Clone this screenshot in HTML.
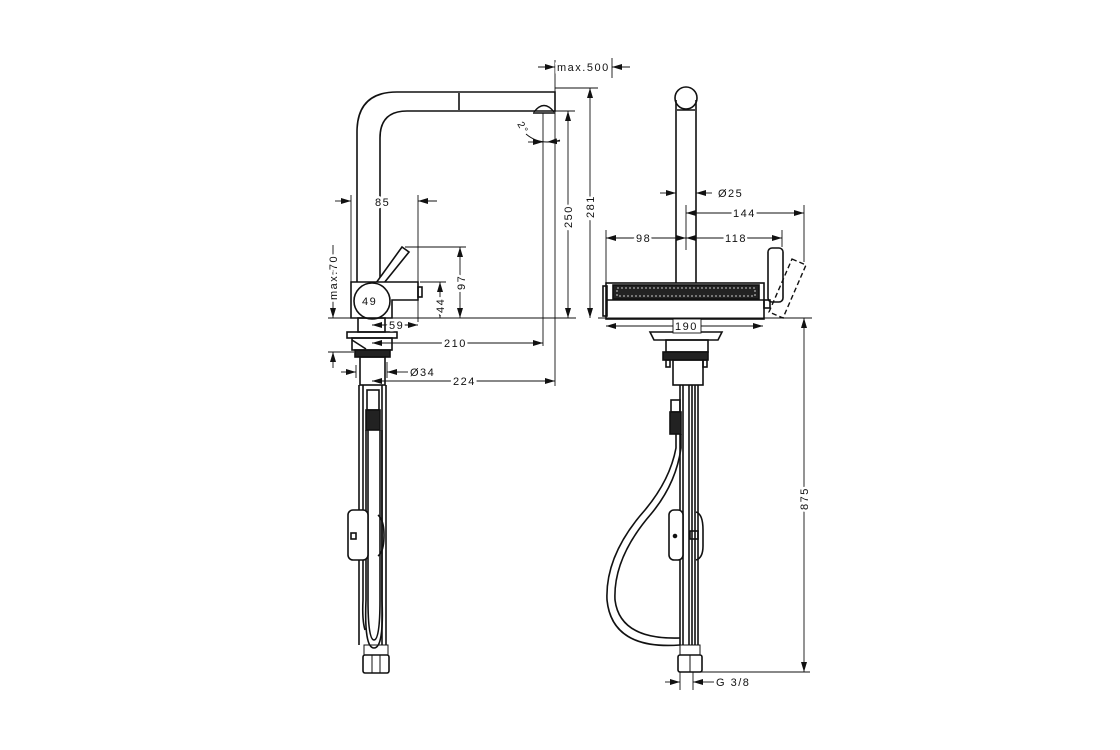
<!DOCTYPE html>
<html><head><meta charset="utf-8"><style>
html,body{margin:0;padding:0;background:#fff;}
svg{display:block;}
text{font-family:"Liberation Sans",sans-serif;font-size:11px;fill:#111;letter-spacing:1.5px;paint-order:stroke;stroke:#fff;stroke-width:5px;}
</style></head><body>
<svg width="1120" height="750" viewBox="0 0 1120 750" xmlns="http://www.w3.org/2000/svg">
<defs>
<marker id="a" viewBox="0 0 10 6" refX="10" refY="3" markerWidth="10" markerHeight="6" markerUnits="userSpaceOnUse" orient="auto-start-reverse"><path d="M0,0L10,3L0,6Z" fill="#111"/></marker>
</defs>
<g fill="none" stroke="#111" stroke-width="1.6">
<path d="M357,283 V132 Q357,92 397,92 H555 V111 H407 Q380,111 380,138 V283"/>
<line x1="459" y1="93" x2="459" y2="110"/>
<path d="M534,112 Q544,99 554,112" stroke-width="1.4"/>
<path d="M533,113 H555" />
<path d="M376,283 L402,247 L409,252 L384,283" fill="#fff"/>
<path d="M351,282 H418 V300 H392 V318 H351 Z" fill="#fff"/>
<circle cx="372" cy="301" r="18" fill="#fff"/>
<rect x="418" y="287" width="4" height="10"/>
<rect x="358" y="318" width="27" height="14"/>
<rect x="347" y="332" width="50" height="6"/>
<rect x="352" y="338" width="40" height="12"/>
<line x1="352" y1="340" x2="366" y2="349"/>
<rect x="355" y="350" width="35" height="7" fill="#222"/>
<rect x="360" y="357" width="25" height="28"/>
<line x1="359" y1="385" x2="359" y2="645"/><line x1="363" y1="385" x2="363" y2="510"/>
<line x1="382" y1="385" x2="382" y2="645"/><line x1="386" y1="385" x2="386" y2="645"/>
<rect x="367" y="390" width="12" height="20"/>
<rect x="366" y="410" width="14" height="20" fill="#222"/>
<path d="M368,430 V600 Q368,640 374,640 Q380,640 380,600 V430"/>
<path d="M366,430 V600 Q364,648 374,648 Q384,648 382,600 V430"/>
<path d="M363,560 V600 Q362,620 365,630"/>
<rect x="348" y="510" width="20" height="50" rx="5" fill="#fff"/>
<rect x="351" y="533" width="5" height="6"/>
<path d="M378,515 Q384,520 384,535 Q384,552 378,556"/>
<rect x="364" y="645" width="24" height="10" stroke-width="1"/>
<rect x="363" y="655" width="26" height="18" rx="2"/>
<line x1="372" y1="655" x2="372" y2="673" stroke-width="1"/><line x1="380" y1="655" x2="380" y2="673" stroke-width="1"/>

<circle cx="686" cy="98" r="11" fill="#fff"/>
<path d="M676,100 V283 M696,100 V283"/>
<line x1="677" y1="110" x2="695" y2="110"/>
<rect x="606" y="283" width="158" height="36" fill="#fff"/>
<rect x="613" y="285" width="146" height="14" fill="#222"/>
<rect x="617" y="288" width="138" height="8" fill="none" stroke="#fff" stroke-width="0.8" stroke-dasharray="2 2"/>
<line x1="606" y1="300" x2="764" y2="300"/>
<rect x="603" y="286" width="4" height="30"/>
<rect x="768" y="248" width="15" height="54" rx="4" fill="#fff"/>
<rect x="764" y="300" width="6" height="8"/>
<path d="M792,259 L806,265 L783,318 L769,312 Z" stroke-dasharray="5 3" stroke-width="1.4"/>
<path d="M650,332 H722 L718,340 H654 Z"/>
<rect x="666" y="340" width="42" height="12"/>
<rect x="663" y="352" width="45" height="8" fill="#222"/>
<rect x="666" y="360" width="4" height="7"/><rect x="703" y="360" width="4" height="7"/>
<rect x="673" y="360" width="30" height="25"/>
<path d="M680,385 V645 M683,385 V645 M689,385 V645 M692,385 V645 M695,385 V645 M698,385 V645"/>
<rect x="671" y="400" width="9" height="12"/>
<rect x="670" y="412" width="11" height="22" fill="#222"/>
<path d="M676,434 V448 Q670,480 645,510 Q605,555 607,600 Q612,650 680,645"/>
<path d="M681,434 V448 Q676,484 651,514 Q613,558 615,600 Q620,640 680,638"/>
<rect x="669" y="510" width="14" height="50" rx="5" fill="#fff"/>
<circle cx="675" cy="536" r="1.5" fill="#111"/>
<path d="M696,512 Q703,514 703,530 V546 Q703,558 696,560"/>
<rect x="690" y="531" width="8" height="8"/>
<rect x="680" y="645" width="20" height="10" stroke-width="1"/>
<rect x="678" y="655" width="24" height="17" rx="2"/>
<line x1="690" y1="655" x2="690" y2="672" stroke-width="1"/>
</g>

<g fill="none" stroke="#111" stroke-width="0.9">
<line x1="328" y1="318" x2="576" y2="318"/>
<line x1="598" y1="318" x2="812" y2="318"/>
<line x1="555" y1="60" x2="555" y2="386"/>
<line x1="543" y1="113" x2="543" y2="346"/>
<line x1="612" y1="58" x2="612" y2="78"/>
<line x1="555" y1="88" x2="598" y2="88"/>
<line x1="540" y1="111" x2="575" y2="111"/>
<line x1="351" y1="195" x2="351" y2="282"/>
<line x1="418" y1="195" x2="418" y2="322"/>
<line x1="405" y1="247" x2="466" y2="247"/>
<line x1="420" y1="282" x2="446" y2="282"/>
<line x1="328" y1="352" x2="354" y2="352"/>
<line x1="686" y1="205" x2="686" y2="250"/>
<line x1="804" y1="205" x2="804" y2="262"/>
<line x1="606" y1="230" x2="606" y2="283"/>
<line x1="782" y1="230" x2="782" y2="247"/>
<line x1="700" y1="672" x2="810" y2="672"/>
<line x1="680" y1="672" x2="680" y2="690"/><line x1="693" y1="672" x2="693" y2="690"/>
<line x1="356" y1="365" x2="356" y2="378"/><line x1="387" y1="362" x2="387" y2="378"/>
<line x1="538" y1="67" x2="555" y2="67" marker-end="url(#a)"/>
<line x1="630" y1="67" x2="612" y2="67" marker-end="url(#a)"/>
<line x1="590" y1="88" x2="590" y2="318" marker-start="url(#a)" marker-end="url(#a)"/>
<line x1="568" y1="111" x2="568" y2="318" marker-start="url(#a)" marker-end="url(#a)"/>
<line x1="335" y1="201" x2="351" y2="201" marker-end="url(#a)"/>
<line x1="437" y1="201" x2="418" y2="201" marker-end="url(#a)"/>
<line x1="333" y1="245" x2="333" y2="318" marker-end="url(#a)"/>
<line x1="333" y1="368" x2="333" y2="352" marker-end="url(#a)"/>
<line x1="460" y1="247" x2="460" y2="318" marker-start="url(#a)" marker-end="url(#a)"/>
<line x1="440" y1="282" x2="440" y2="318" marker-start="url(#a)" marker-end="url(#a)"/>
<line x1="372" y1="325" x2="418" y2="325" marker-start="url(#a)" marker-end="url(#a)"/>
<line x1="372" y1="343" x2="543" y2="343" marker-start="url(#a)" marker-end="url(#a)"/>
<line x1="372" y1="381" x2="555" y2="381" marker-start="url(#a)" marker-end="url(#a)"/>
<line x1="341" y1="372" x2="356" y2="372" marker-end="url(#a)"/>
<line x1="402" y1="372" x2="387" y2="372" marker-end="url(#a)"/>
<path d="M526,134 Q540,146 560,140"/>
<line x1="528" y1="142" x2="543" y2="142" marker-end="url(#a)"/>
<line x1="560" y1="141" x2="547" y2="142" marker-end="url(#a)"/>
<line x1="660" y1="193" x2="676" y2="193" marker-end="url(#a)"/>
<line x1="712" y1="193" x2="696" y2="193" marker-end="url(#a)"/>
<line x1="686" y1="213" x2="804" y2="213" marker-start="url(#a)" marker-end="url(#a)"/>
<line x1="606" y1="238" x2="686" y2="238" marker-start="url(#a)" marker-end="url(#a)"/>
<line x1="686" y1="238" x2="782" y2="238" marker-start="url(#a)" marker-end="url(#a)"/>
<line x1="606" y1="326" x2="763" y2="326" marker-start="url(#a)" marker-end="url(#a)"/>
<line x1="804" y1="318" x2="804" y2="672" marker-start="url(#a)" marker-end="url(#a)"/>
<line x1="665" y1="682" x2="680" y2="682" marker-end="url(#a)"/>
<line x1="708" y1="682" x2="693" y2="682" marker-end="url(#a)"/>
<line x1="708" y1="682" x2="714" y2="682"/>
<line x1="402" y1="372" x2="408" y2="372"/>
</g>
<rect x="673" y="319" width="28" height="14" fill="#fff" stroke="#111" stroke-width="0.9"/>

<g>
<text x="557" y="71">max.500</text>
<text x="375" y="206">85</text>
<text transform="translate(337,300) rotate(-90)">max.70</text>
<text transform="translate(465,290) rotate(-90)">97</text>
<text transform="translate(444,313) rotate(-90)">44</text>
<text x="362" y="305" style="stroke-width:3px">49</text>
<text x="389" y="329">59</text>
<text x="444" y="347">210</text>
<text x="453" y="385">224</text>
<text x="410" y="376">Ø34</text>
<text transform="translate(572,228) rotate(-90)">250</text>
<text transform="translate(594,218) rotate(-90)">281</text>
<text transform="translate(517,124) rotate(60)" style="font-size:10px">2°</text>
<text x="718" y="197">Ø25</text>
<text x="733" y="217">144</text>
<text x="636" y="242">98</text>
<text x="725" y="242">118</text>
<text x="675" y="330" style="stroke:none">190</text>
<text transform="translate(808,510) rotate(-90)">875</text>
<text x="716" y="686">G 3/8</text>
</g>
</svg>
</body></html>
